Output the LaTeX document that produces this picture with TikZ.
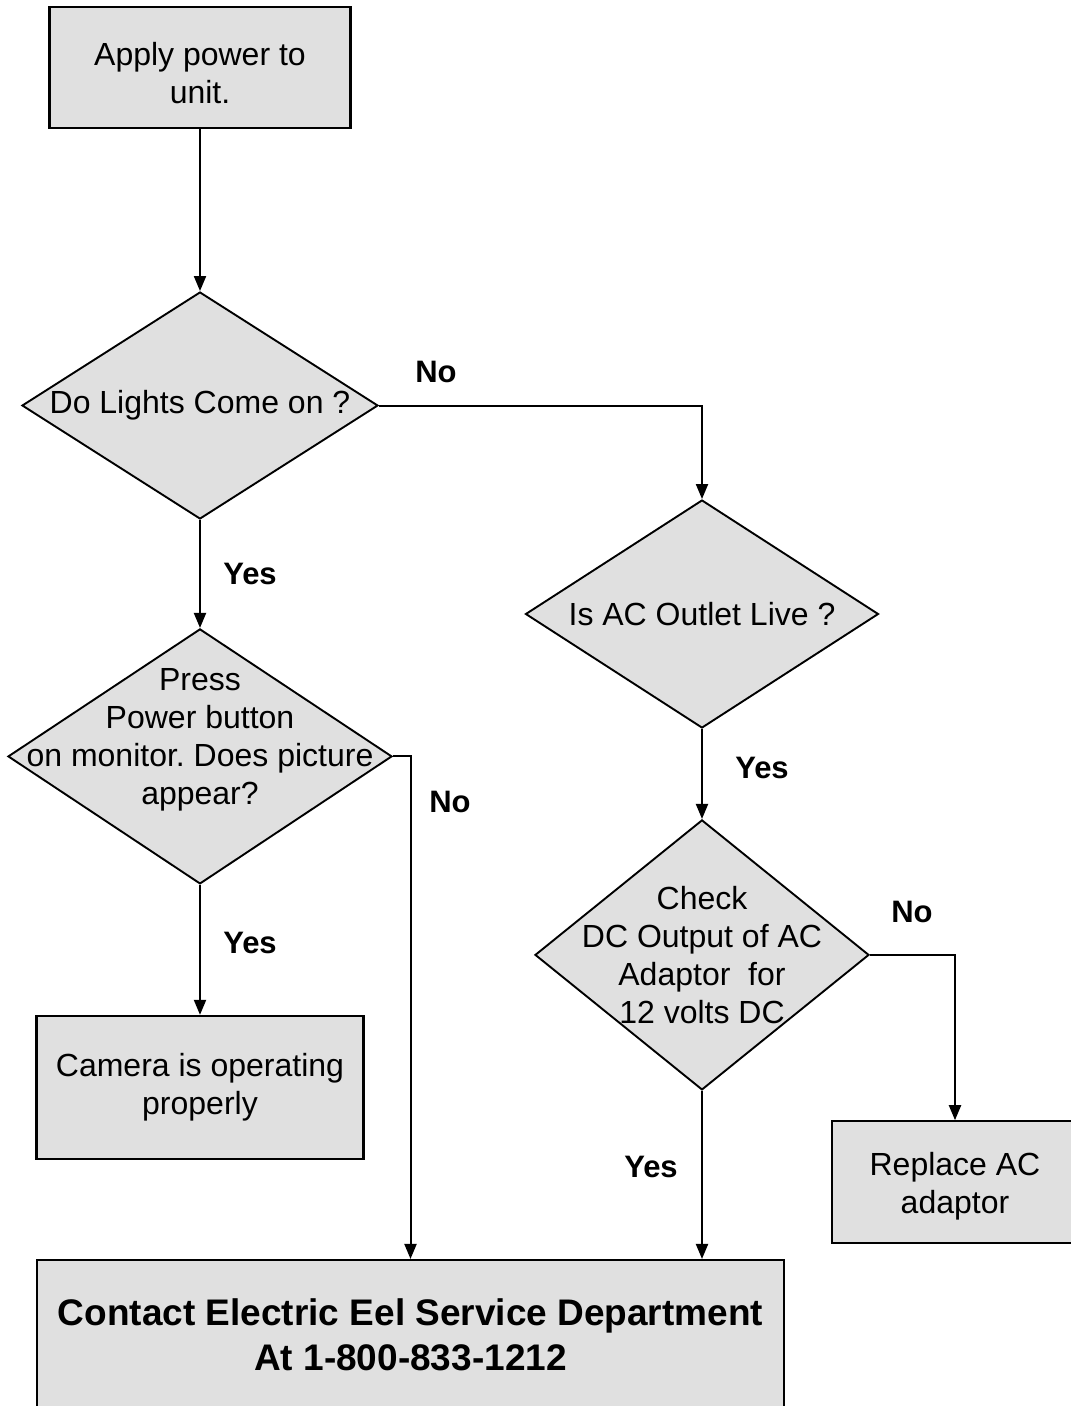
\documentclass[tikz,border=0pt]{standalone}
\usepackage{fontspec}
\setmainfont{Liberation Sans}
\frenchspacing
\usepackage{tikz}
\usetikzlibrary{shapes.geometric, arrows.meta, positioning}
\definecolor{boxgray}{gray}{0.88}
\tikzset{
    block/.style={rectangle, draw, line width=2.1pt, fill=boxgray, align=center, inner sep=0pt, font=\fontsize{32}{38}\selectfont},
    decision/.style={diamond, draw, line width=1.9pt, fill=boxgray, inner sep=0pt},
    qtext/.style={align=center, inner sep=0pt, font=\fontsize{32}{38}\selectfont},
    answer/.style={font=\bfseries\fontsize{31}{36}\selectfont},
    arrow/.style={line width=2pt, -{Triangle[length=15pt,width=12pt]}}
}

\begin{document}
\begin{tikzpicture}[x=1pt, y=-1pt]
            \useasboundingbox (0,0) rectangle (1071,1406);
            \clip (0,0) rectangle (1071,1406);

            % left column
            \node[block, minimum width=301pt, minimum height=121pt,
                  label={[qtext, yshift=-6pt]center:{Apply power to\\unit.}}] (apply) at (200,67.5) {};
            \node[decision, minimum width=356pt, minimum height=227pt, below=162pt of apply,
                  label={[qtext]center:Do Lights Come on ?}] (lights) {};
            \node[decision, minimum width=384pt, minimum height=255pt, below=108pt of lights,
                  label={[qtext, yshift=17pt]center:{Press\\Power button\\on monitor. Does picture\\appear?}}] (press) {};
            \node[block, minimum width=327pt, minimum height=143pt, below=130pt of press] (camera) {Camera is operating\\properly};

            % right column
            \node[decision, minimum width=353pt, minimum height=228pt,
                  label={[qtext]center:Is AC Outlet Live ?}] (outlet) at (702,614) {};
            \node[decision, minimum width=334pt, minimum height=270pt, below=90pt of outlet,
                  label={[qtext]center:{Check\\DC Output of AC\\Adaptor~ for\\12 volts DC}}] (check) {};
            \node[block, line width=1.6pt, minimum width=246pt, minimum height=122pt,
                  label={[qtext, yshift=-4pt]center:{Replace AC\\adaptor}}] (replace) at (955,1182) {};

            % service box
            \node[block, minimum width=747pt, minimum height=150pt, font=\bfseries\fontsize{37}{45}\selectfont] (contact) at (410.5,1335)
                {Contact Electric Eel Service Department\\At 1-800-833-1212};

            % connectors
            \draw[arrow] (apply) -- (lights);
            \draw[arrow] (lights) -- (press);
            \draw[arrow] (press) -- (camera);
            \draw[arrow] (lights.east) -| (outlet.north);
            \draw[arrow] (outlet) -- (check);
            \draw[arrow] (press.east) -| (contact.north);
            \draw[arrow] (check.east) -| (replace.north);
            \draw[arrow] (check.south) -- (check.south |- contact.north);

            % answers
            \node[answer] (no1) at (436,372) {No};
            \node[answer] (yes1) at (250,574) {Yes};
            \node[answer] (no2) at (450,802) {No};
            \node[answer] (yes2) at (250,943) {Yes};
            \node[answer] (yes3) at (762,768) {Yes};
            \node[answer] (no3) at (912,912) {No};
            \node[answer] (yes4) at (651,1167) {Yes};
        \end{tikzpicture}
\end{document}
